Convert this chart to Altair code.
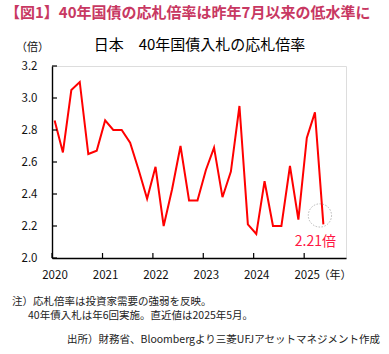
import altair as alt
import pandas as pd

# ---- data ----
dates = [
    "2020-01-20", "2020-03-20", "2020-05-20", "2020-07-20", "2020-09-20", "2020-11-20",
    "2021-01-20", "2021-03-20", "2021-05-20", "2021-07-20", "2021-09-20", "2021-11-20",
    "2022-01-20", "2022-03-20", "2022-05-20", "2022-07-20", "2022-09-20", "2022-11-20",
    "2023-01-20", "2023-03-20", "2023-05-20", "2023-07-20", "2023-09-20", "2023-11-20",
    "2024-01-20", "2024-03-20", "2024-05-20", "2024-07-20", "2024-09-20", "2024-11-20",
    "2025-01-20", "2025-03-20", "2025-05-20",
]
values = [
    2.86, 2.66, 3.05, 3.10, 2.65, 2.67,
    2.86, 2.80, 2.80, 2.72, 2.55, 2.37,
    2.57, 2.20, 2.43, 2.70, 2.36, 2.36,
    2.55, 2.69, 2.38, 2.54, 2.95, 2.21,
    2.15, 2.48, 2.20, 2.20, 2.575, 2.24,
    2.75, 2.91, 2.21,
]
year_ticks = ["2020-01-01", "2021-01-01", "2022-01-01", "2023-01-01", "2024-01-01", "2025-01-01"]
y_ticks = [2.0, 2.2, 2.4, 2.6, 2.8, 3.0, 3.2]
circle_date = ["2025-04-25"]
circle_value = [2.266]
last_label = "2.21倍"

title_text = "【図1】40年国債の応札倍率は昨年7月以来の低水準に"
subtitle_text = "日本　40年国債入札の応札倍率"
y_unit = "（倍）"
x_unit = "（年）"
note1 = "注）応札倍率は投資家需要の強弱を反映。"
note2 = "40年債入札は年6回実施。直近値は2025年5月。"
source = "出所）財務省、Bloombergより三菱UFJアセットマネジメント作成"

FONT = "Noto Sans CJK JP"
W, H = 294, 192

df = pd.DataFrame({"date": dates, "value": values})
df_last = df.tail(1).assign(label=last_label)
df_years = pd.DataFrame({"date": year_ticks})
df_yt = pd.DataFrame({"value": y_ticks})
df_circle = pd.DataFrame({"date": circle_date, "value": circle_value})

xscale = alt.Scale(domain=[alt.DateTime(year=2020, month=1, date=1),
                           alt.DateTime(year=2025, month=10, date=31)])
yscale = alt.Scale(domain=[2.0, 3.2], nice=False, zero=False)

xaxis = alt.Axis(
    values=[alt.DateTime(year=y, month=1, date=1) for y in range(2020, 2026)],
    format="%Y", title=None, grid=False, ticks=False, labelPadding=11,
    labelOffset=2.5, labelFlush=False, labelOverlap=False,
    labelFontSize=11.5, labelColor="#111",
    domainColor="#000", domainWidth=1.4,
)
yaxis = alt.Axis(
    values=y_ticks, format=".1f", title=None, grid=False, ticks=False,
    labelPadding=15, labelFontSize=11.5, labelColor="#111",
    labelOverlap=False, labelFlush=False,
    domainColor="#000", domainWidth=1.4,
)

X = alt.X("date:T", scale=xscale, axis=xaxis)
Y = alt.Y("value:Q", scale=yscale, axis=yaxis)

line = alt.Chart(df).mark_line(color="#ff0000", strokeWidth=2).encode(x=X, y=Y)

ytick = alt.Chart(df_yt).mark_rule(color="#000", strokeWidth=1.2).encode(
    y=Y, x=alt.value(0), x2=alt.value(5)
)
xtick = alt.Chart(df_years).mark_rule(color="#000", strokeWidth=1.2).encode(
    x=X, y=alt.value(H), y2=alt.value(H - 5)
)

circle = alt.Chart(df_circle).mark_point(
    shape="circle", size=540, filled=False, color="#999999",
    strokeWidth=1, strokeDash=[1.5, 1.5]
).encode(x=X, y=Y)

last_text = alt.Chart(df_last).mark_text(
    color="#ff1744", fontSize=14, dx=-8, dy=18, font=FONT
).encode(x=X, y=Y, text="label:N")


def txt(s, x, y, size, color="#111", align="left", weight="normal"):
    return alt.Chart(pd.DataFrame({"t": [s]})).mark_text(
        align=align, baseline="middle", fontSize=size, color=color,
        fontWeight=weight, font=FONT
    ).encode(text="t:N", x=alt.value(x), y=alt.value(y))


texts = [
    txt(title_text, -47, -53, 15, color="#c83862", weight="bold"),
    txt(subtitle_text, 147.5, -21, 15, color="#000", align="center"),
    txt(y_unit, -19.5, -18, 11, align="center"),
    txt(x_unit, 283, 210, 11, align="center"),
    txt(note1, -40, 236, 10.5, color="#222"),
    txt(note2, -24, 250, 10.5, color="#222"),
    txt(source, 15, 274, 10.5, color="#222"),
]

chart = alt.layer(line, ytick, xtick, circle, last_text, *texts).properties(
    width=W, height=H,
    padding={"left": 52, "top": 66, "right": 43, "bottom": 96},
    autosize=alt.AutoSizeParams(type="none"),
    background="white",
).configure_view(stroke="#000", strokeWidth=1.3).configure(font=FONT)

chart.save("out.html", embed_options={"renderer": "svg", "actions": False})
